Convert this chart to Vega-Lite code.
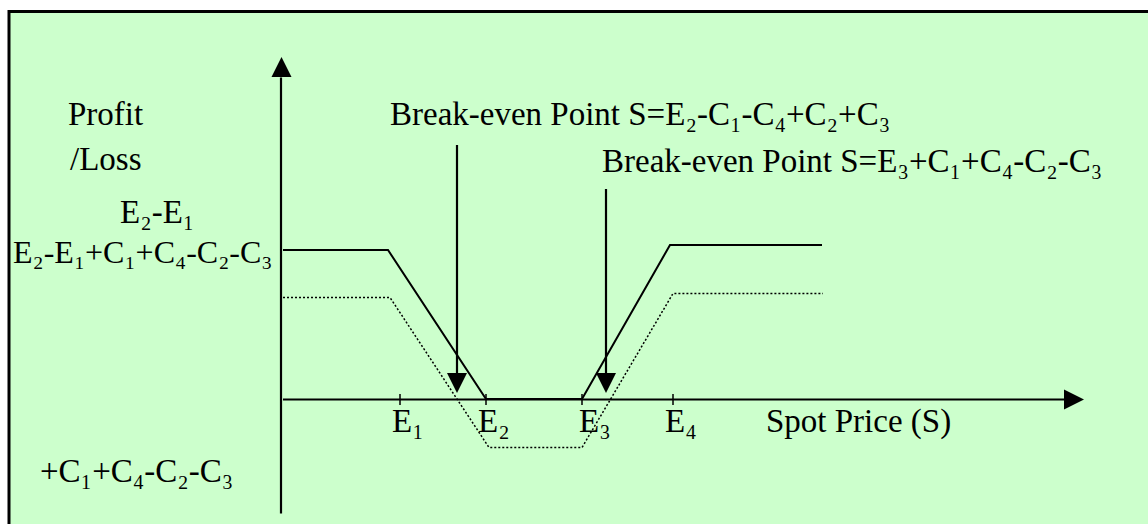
{
  "$schema": "https://vega.github.io/schema/vega-lite/v6.json",
  "width": 1148,
  "height": 524,
  "autosize": {"type": "fit", "contains": "padding"},
  "padding": 0,
  "background": "white",
  "config": {"view": {"stroke": null}},
  "datasets": {
    "box": [{"x1": -272, "x2": 900, "y1": 388, "y2": -150}],
    "payoff": [
      {"series": "net", "ord": 1, "s": 2, "pl": 149.5},
      {"series": "net", "ord": 2, "s": 107, "pl": 149.5},
      {"series": "net", "ord": 3, "s": 205, "pl": 0.5},
      {"series": "net", "ord": 4, "s": 301, "pl": 0.5},
      {"series": "net", "ord": 5, "s": 389, "pl": 154.5},
      {"series": "net", "ord": 6, "s": 541, "pl": 154.5},
      {"series": "gross", "ord": 1, "s": 2, "pl": 102},
      {"series": "gross", "ord": 2, "s": 109, "pl": 102},
      {"series": "gross", "ord": 3, "s": 208, "pl": -48},
      {"series": "gross", "ord": 4, "s": 301, "pl": -48},
      {"series": "gross", "ord": 5, "s": 392, "pl": 106},
      {"series": "gross", "ord": 6, "s": 542, "pl": 106}
    ],
    "rules": [
      {"kind": "axis", "x1": 0, "y1": -114, "x2": 0, "y2": 322},
      {"kind": "axis", "x1": 2, "y1": 0, "x2": 785, "y2": 0},
      {"kind": "axis", "x1": 176, "y1": 254.5, "x2": 176, "y2": 24.5},
      {"kind": "axis", "x1": 325, "y1": 210.5, "x2": 325, "y2": 24.5},
      {"kind": "tick", "x1": 119, "y1": 5.5, "x2": 119, "y2": -5.5},
      {"kind": "tick", "x1": 205, "y1": 5.5, "x2": 205, "y2": -5.5},
      {"kind": "tick", "x1": 301, "y1": 5.5, "x2": 301, "y2": -5.5},
      {"kind": "tick", "x1": 392, "y1": 5.5, "x2": 392, "y2": -5.5}
    ],
    "heads": [
      {"dir": "up", "x": 0.5, "y": 332.5},
      {"dir": "right", "x": 793, "y": 0},
      {"dir": "down", "x": 176, "y": 16.5},
      {"dir": "down", "x": 325, "y": 16.5}
    ],
    "labels": [
      {"x": -213, "y": 274.5, "t": "Profit"},
      {"x": -211, "y": 229.5, "t": "/Loss"},
      {"x": -161, "y": 176.5, "t": "E₂-E₁"},
      {"x": -241, "y": -82.5, "t": "+C₁+C₄-C₂-C₃"},
      {"x": 109, "y": 274.5, "t": "Break-even Point S=E₂-C₁-C₄+C₂+C₃"},
      {"x": 321, "y": 227.5, "t": "Break-even Point S=E₃+C₁+C₄-C₂-C₃"},
      {"x": 111, "y": -32.5, "t": "E₁"},
      {"x": 197, "y": -32.5, "t": "E₂"},
      {"x": 298, "y": -32.5, "t": "E₃"},
      {"x": 384, "y": -32.5, "t": "E₄"},
      {"x": 485, "y": -32.5, "t": "Spot Price (S)"}
    ],
    "level": [
      {"x": -268, "y": 136.5, "t": "E₂-E₁+C₁+C₄-C₂-C₃"}
    ]
  },
  "layer": [
    {
      "data": {"name": "box"},
      "mark": {"type": "rect", "fill": "#CCFFCC", "stroke": "black", "strokeWidth": 3, "clip": true},
      "encoding": {
        "x": {"field": "x1", "type": "quantitative", "scale": {"domain": [-281, 867], "nice": false, "zero": false}, "axis": null},
        "x2": {"field": "x2"},
        "y": {"field": "y1", "type": "quantitative", "scale": {"domain": [-124.5, 399.5], "nice": false, "zero": false}, "axis": null},
        "y2": {"field": "y2"}
      }
    },
    {
      "data": {"name": "payoff"},
      "transform": [{"filter": "datum.series === 'gross'"}],
      "mark": {"type": "line", "color": "black", "strokeWidth": 1.5, "strokeDash": [2, 2]},
      "encoding": {
        "x": {"field": "s", "type": "quantitative", "axis": null},
        "y": {"field": "pl", "type": "quantitative", "axis": null},
        "order": {"field": "ord"}
      }
    },
    {
      "data": {"name": "payoff"},
      "transform": [{"filter": "datum.series === 'net'"}],
      "mark": {"type": "line", "color": "black", "strokeWidth": 2},
      "encoding": {
        "x": {"field": "s", "type": "quantitative", "axis": null},
        "y": {"field": "pl", "type": "quantitative", "axis": null},
        "order": {"field": "ord"}
      }
    },
    {
      "data": {"name": "rules"},
      "mark": {"type": "rule", "color": "black"},
      "encoding": {
        "x": {"field": "x1", "type": "quantitative", "axis": null},
        "y": {"field": "y1", "type": "quantitative", "axis": null},
        "x2": {"field": "x2"},
        "y2": {"field": "y2"},
        "strokeWidth": {"field": "kind", "type": "nominal", "scale": {"domain": ["axis", "tick"], "range": [2.2, 1.5]}, "legend": null}
      }
    },
    {
      "data": {"name": "heads"},
      "mark": {"type": "point", "filled": true, "color": "black", "size": 400, "opacity": 1, "strokeWidth": 0},
      "encoding": {
        "x": {"field": "x", "type": "quantitative", "axis": null},
        "y": {"field": "y", "type": "quantitative", "axis": null},
        "shape": {"field": "dir", "type": "nominal", "scale": {"domain": ["up", "down", "right"], "range": ["M-1,1L1,1L0,-1Z", "M-1,-1L1,-1L0,1Z", "M-1,-1L1,0L-1,1Z"]}, "legend": null}
      }
    },
    {
      "data": {"name": "labels"},
      "mark": {"type": "text", "align": "left", "baseline": "alphabetic", "font": "Liberation Serif", "fontSize": 33, "color": "black"},
      "encoding": {
        "x": {"field": "x", "type": "quantitative", "axis": null},
        "y": {"field": "y", "type": "quantitative", "axis": null},
        "text": {"field": "t"}
      }
    },
    {
      "data": {"name": "level"},
      "mark": {"type": "text", "align": "left", "baseline": "alphabetic", "font": "Liberation Serif", "fontSize": 32, "color": "black"},
      "encoding": {
        "x": {"field": "x", "type": "quantitative", "axis": null},
        "y": {"field": "y", "type": "quantitative", "axis": null},
        "text": {"field": "t"}
      }
    }
  ]
}
